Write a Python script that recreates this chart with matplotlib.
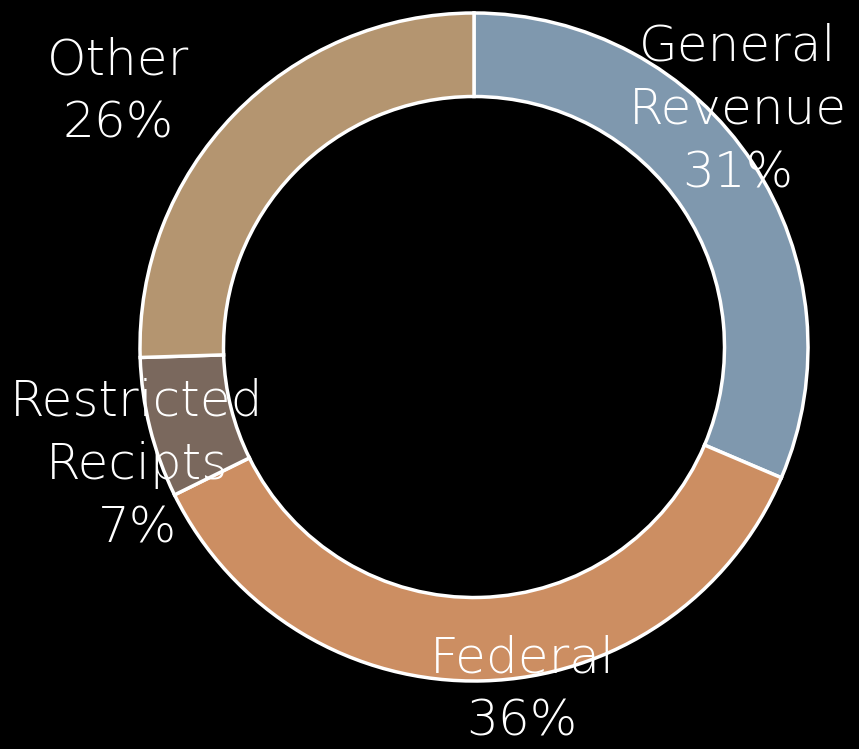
import matplotlib
matplotlib.use('Agg')
import matplotlib.pyplot as plt

labels = ['General\nRevenue', 'Federal', 'Restricted\nRecipts', 'Other']
shares = [31.4, 36.3, 6.8, 25.5]
colors = ['#7F98AE', '#CC8E62', '#7A685D', '#B49570']
# label anchor points, in pixels from top-left of the image
label_pos = [(738, 110), (522, 690), (137, 465), (118, 92)]

W, H = 859, 749
fig = plt.figure(figsize=(W / 100, H / 100), dpi=100, facecolor='black')
ax = fig.add_axes([0, 0, 1, 1])
ax.set_facecolor('black')

cx, cy, r = 474, H - 347, 334
ax.pie(shares, colors=colors, startangle=90, counterclock=False,
       center=(cx, cy), radius=r,
       wedgeprops={'width': r * 0.25, 'edgecolor': 'white', 'linewidth': 2.5})

for lab, val, (x, y) in zip(labels, shares, label_pos):
    ax.text(x, H - y, '{}\n{:.0f}%'.format(lab, round(val + 0.01)), color='white',
            fontsize=36, ha='center', va='center', linespacing=1.42,
            family='DejaVu Sans', fontweight='light')

ax.set_xlim(0, W)
ax.set_ylim(0, H)
ax.set_aspect('equal')
ax.axis('off')

fig.savefig('out.png', dpi=100, facecolor='black')
